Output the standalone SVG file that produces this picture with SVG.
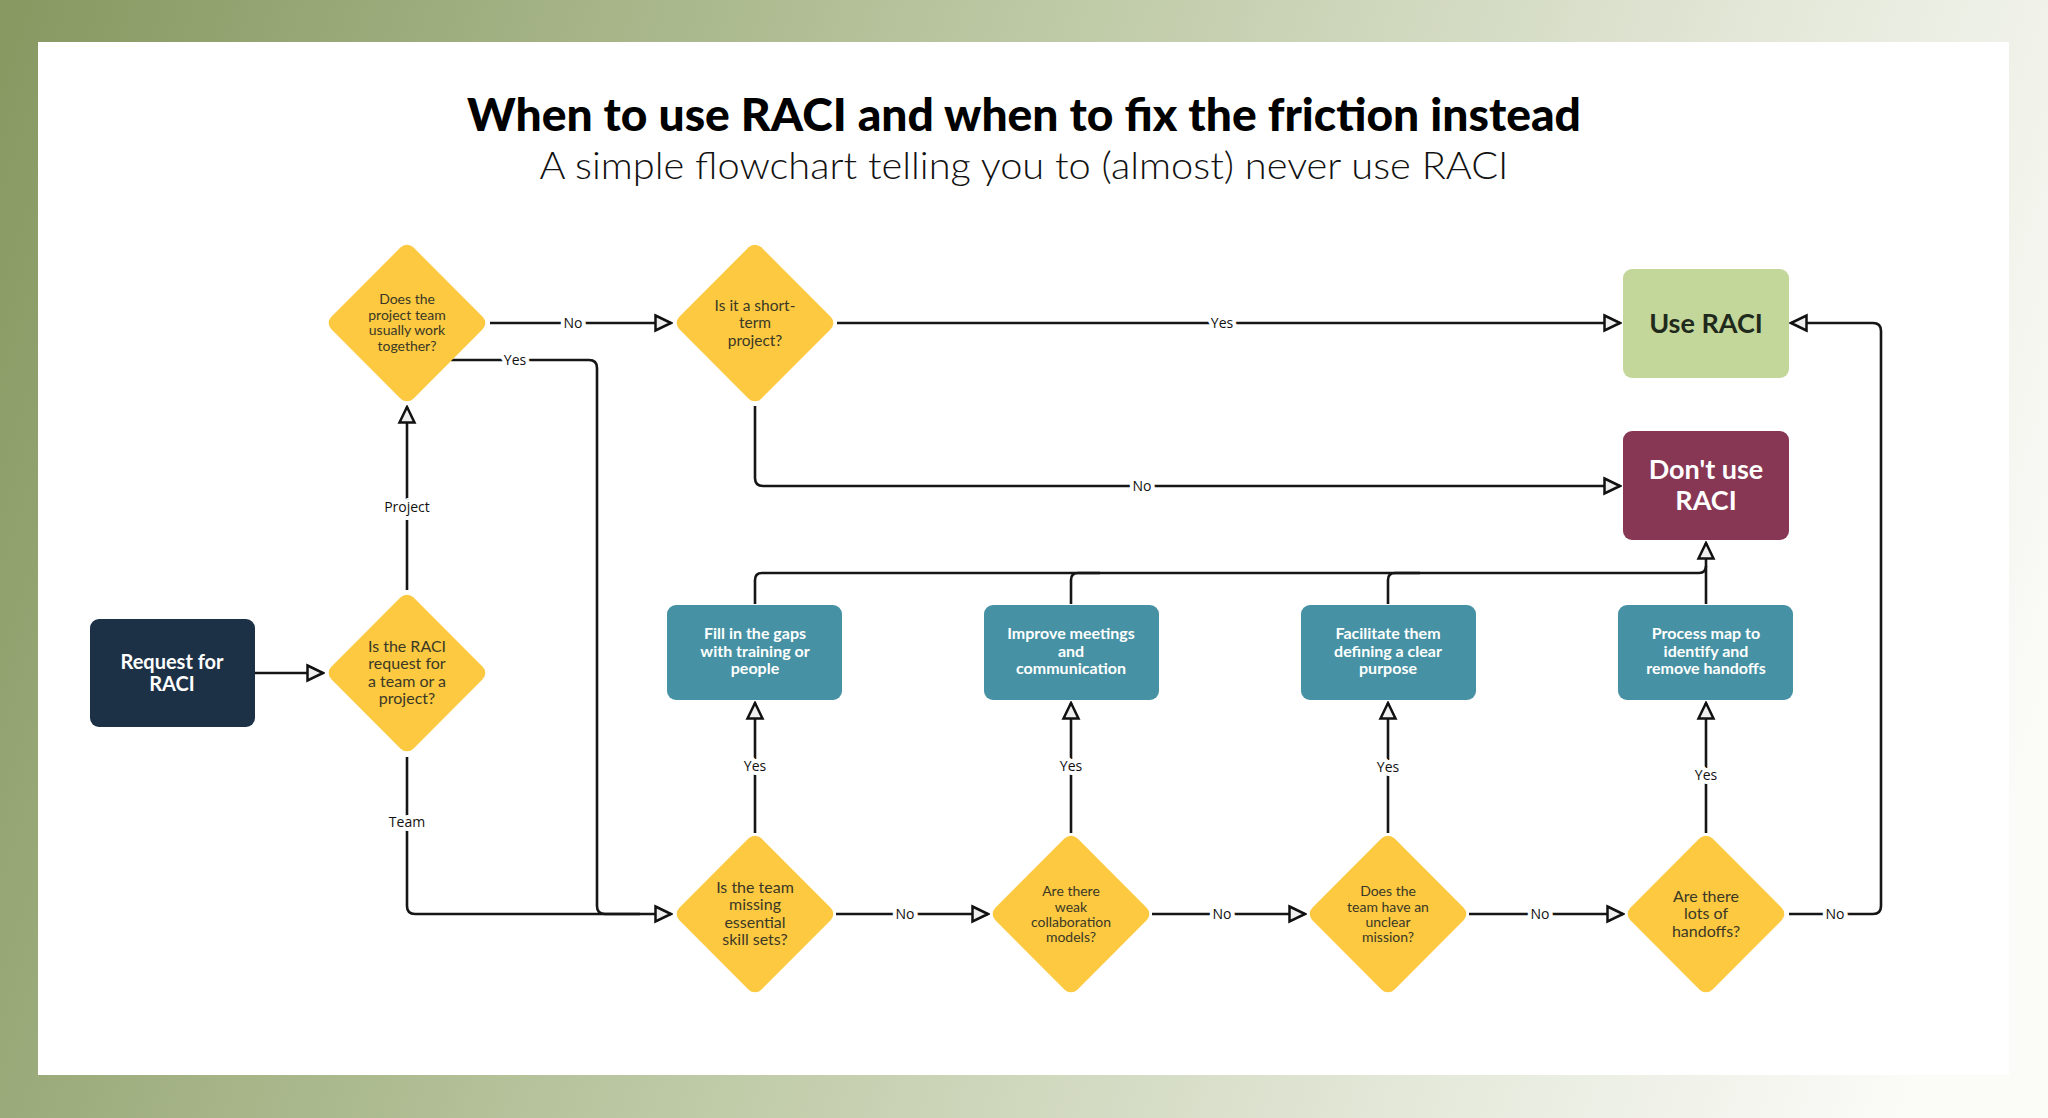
<svg xmlns="http://www.w3.org/2000/svg" width="2048" height="1118" viewBox="0 0 2048 1118">
<defs>
  <linearGradient id="bg" gradientUnits="userSpaceOnUse" x1="0" y1="0" x2="2048" y2="700">
    <stop offset="0" stop-color="#879861"/>
    <stop offset="0.45" stop-color="#bcc8a3"/>
    <stop offset="0.8" stop-color="#e6eadc"/>
    <stop offset="1" stop-color="#fbfbf8"/>
  </linearGradient>
  <marker id="arr" viewBox="0 0 20 20" refX="18" refY="10" markerWidth="20" markerHeight="20" markerUnits="userSpaceOnUse" orient="auto">
    <path d="M2.5 2.5 L18 10 L2.5 17.5 Z" fill="#efefef" stroke="#111" stroke-width="2.5" stroke-linejoin="miter"/>
  </marker>
  <rect id="dia" x="-58" y="-58" width="116" height="116" rx="9" transform="rotate(45)"/>
</defs>
<style>
  .conn path { fill: none; stroke: #161616; stroke-width: 2.6; }
  .lbl { font-family: "Open Sans", "Noto Sans", sans-serif; font-size: 14px; fill: #111; text-anchor: middle; stroke: #fff; stroke-width: 8px; paint-order: stroke; stroke-linejoin: round; }
  .dtxt { font-family: "Lato", "Open Sans", sans-serif; fill: #3b3826; text-anchor: middle; }
  .box { font-family: "Lato", "Open Sans", sans-serif; font-weight: 700; text-anchor: middle; }
  .yellow { fill: #fcc940; }
  .teal { fill: #4692a4; }
</style>
<rect x="0" y="0" width="2048" height="1118" fill="url(#bg)"/>
<rect x="38" y="42" width="1971" height="1033" fill="#ffffff"/>

<g id="title">
  <text x="1024" y="131" font-family="Lato, 'Open Sans', sans-serif" font-weight="900" font-size="45" text-anchor="middle" fill="#000" textLength="1114" lengthAdjust="spacingAndGlyphs">When to use RACI and when to fix the friction instead</text>
  <text x="1024" y="179" font-family="Lato, 'Open Sans', sans-serif" font-weight="300" font-size="37" text-anchor="middle" fill="#111" textLength="969" lengthAdjust="spacingAndGlyphs">A simple flowchart telling you to (almost) never use RACI</text>
</g>

<g class="conn" id="connectors">
  <path d="M255 673 H323" marker-end="url(#arr)"/>
  <path d="M407 590 V407" marker-end="url(#arr)"/>
  <path d="M407 757 V906 Q407 914 415 914 H671" marker-end="url(#arr)"/>
  <path d="M490 323 H671" marker-end="url(#arr)"/>
  <path d="M451 360 H589 Q597 360 597 368 V906 Q597 914 605 914 H640"/>
  <path d="M837 323 H1620" marker-end="url(#arr)"/>
  <path d="M755 406 V478 Q755 486 763 486 H1620" marker-end="url(#arr)"/>
  <path d="M836 914 H988" marker-end="url(#arr)"/>
  <path d="M1152 914 H1305" marker-end="url(#arr)"/>
  <path d="M1469 914 H1623" marker-end="url(#arr)"/>
  <path d="M1789 914 H1873 Q1881 914 1881 906 V331 Q1881 323 1873 323 H1791" marker-end="url(#arr)"/>
  <path d="M755 833 V703" marker-end="url(#arr)"/>
  <path d="M1071 833 V703" marker-end="url(#arr)"/>
  <path d="M1388 833 V703" marker-end="url(#arr)"/>
  <path d="M1706 833 V703" marker-end="url(#arr)"/>
  <path d="M755 604 V580 Q755 573 762 573 H1699 Q1706 573 1706 566"/>
  <path d="M1071 604 V580 Q1071 573 1078 573 H1100"/>
  <path d="M1388 604 V580 Q1388 573 1395 573 H1420"/>
  <path d="M1706 604 V543" marker-end="url(#arr)"/>
  <text class="lbl" x="407" y="512">Project</text>
  <text class="lbl" x="407" y="827" font-size="16">Team</text>
  <text class="lbl" x="573" y="328">No</text>
  <text class="lbl" x="515" y="365">Yes</text>
  <text class="lbl" x="1222" y="328">Yes</text>
  <text class="lbl" x="1142" y="491">No</text>
  <text class="lbl" x="905" y="919">No</text>
  <text class="lbl" x="1222" y="919">No</text>
  <text class="lbl" x="1540" y="919">No</text>
  <text class="lbl" x="1835" y="919">No</text>
  <text class="lbl" x="755" y="771" font-size="16">Yes</text>
  <text class="lbl" x="1071" y="771" font-size="15">Yes</text>
  <text class="lbl" x="1388" y="772" font-size="15">Yes</text>
  <text class="lbl" x="1706" y="780" font-size="16">Yes</text>
</g>

<g id="request">
  <rect x="90" y="619" width="165" height="108" rx="9" fill="#1d3146"/>
  <text class="box" x="172" y="669" font-size="20" fill="#fff">Request for</text>
  <text class="box" x="172" y="691" font-size="20" fill="#fff">RACI</text>
</g>

<g id="q-team-or-project">
  <use href="#dia" x="407" y="673" class="yellow"/>
  <text class="dtxt" font-size="16"><tspan x="407" y="652">Is the RACI</tspan><tspan x="407" y="669">request for</tspan><tspan x="407" y="687">a team or a</tspan><tspan x="407" y="704">project?</tspan></text>
</g>

<g id="q-work-together">
  <use href="#dia" x="407" y="323" class="yellow"/>
  <text class="dtxt" font-size="14"><tspan x="407" y="304">Does the</tspan><tspan x="407" y="320">project team</tspan><tspan x="407" y="335">usually work</tspan><tspan x="407" y="351">together?</tspan></text>
</g>

<g id="q-short-term">
  <use href="#dia" x="755" y="323" class="yellow"/>
  <text class="dtxt" font-size="15.5"><tspan x="755" y="311">Is it a short-</tspan><tspan x="755" y="328">term</tspan><tspan x="755" y="346">project?</tspan></text>
</g>

<g id="use-raci">
  <rect x="1623" y="269" width="166" height="109" rx="9" fill="#c4d79b"/>
  <text class="box" x="1706" y="333" font-size="27" font-weight="600" fill="#1f2a1c">Use RACI</text>
</g>

<g id="dont-use-raci">
  <rect x="1623" y="431" width="166" height="109" rx="9" fill="#873653"/>
  <text class="box" x="1706" y="479" font-size="27" font-weight="600" fill="#fff">Don't use</text>
  <text class="box" x="1706" y="510" font-size="27" font-weight="600" fill="#fff">RACI</text>
</g>

<g id="a-fill-gaps">
  <rect x="667" y="605" width="175" height="95" rx="9" class="teal"/>
  <text class="box" font-size="16" fill="#fff"><tspan x="755" y="639">Fill in the gaps</tspan><tspan x="755" y="657">with training or</tspan><tspan x="755" y="674">people</tspan></text>
</g>

<g id="a-meetings">
  <rect x="984" y="605" width="175" height="95" rx="9" class="teal"/>
  <text class="box" font-size="16" fill="#fff"><tspan x="1071" y="639">Improve meetings</tspan><tspan x="1071" y="657">and</tspan><tspan x="1071" y="674">communication</tspan></text>
</g>

<g id="a-purpose">
  <rect x="1301" y="605" width="175" height="95" rx="9" class="teal"/>
  <text class="box" font-size="16" fill="#fff"><tspan x="1388" y="639">Facilitate them</tspan><tspan x="1388" y="657">defining a clear</tspan><tspan x="1388" y="674">purpose</tspan></text>
</g>

<g id="a-process-map">
  <rect x="1618" y="605" width="175" height="95" rx="9" class="teal"/>
  <text class="box" font-size="16" fill="#fff"><tspan x="1706" y="639">Process map to</tspan><tspan x="1706" y="657">identify and</tspan><tspan x="1706" y="674">remove handoffs</tspan></text>
</g>

<g id="q-skills">
  <use href="#dia" x="755" y="914" class="yellow"/>
  <text class="dtxt" font-size="16"><tspan x="755" y="893">Is the team</tspan><tspan x="755" y="910">missing</tspan><tspan x="755" y="928">essential</tspan><tspan x="755" y="945">skill sets?</tspan></text>
</g>

<g id="q-collaboration">
  <use href="#dia" x="1071" y="914" class="yellow"/>
  <text class="dtxt" font-size="14"><tspan x="1071" y="896">Are there</tspan><tspan x="1071" y="912">weak</tspan><tspan x="1071" y="927">collaboration</tspan><tspan x="1071" y="942">models?</tspan></text>
</g>

<g id="q-mission">
  <use href="#dia" x="1388" y="914" class="yellow"/>
  <text class="dtxt" font-size="14"><tspan x="1388" y="896">Does the</tspan><tspan x="1388" y="912">team have an</tspan><tspan x="1388" y="927">unclear</tspan><tspan x="1388" y="942">mission?</tspan></text>
</g>

<g id="q-handoffs">
  <use href="#dia" x="1706" y="914" class="yellow"/>
  <text class="dtxt" font-size="16"><tspan x="1706" y="902">Are there</tspan><tspan x="1706" y="919">lots of</tspan><tspan x="1706" y="937">handoffs?</tspan></text>
</g>
</svg>
